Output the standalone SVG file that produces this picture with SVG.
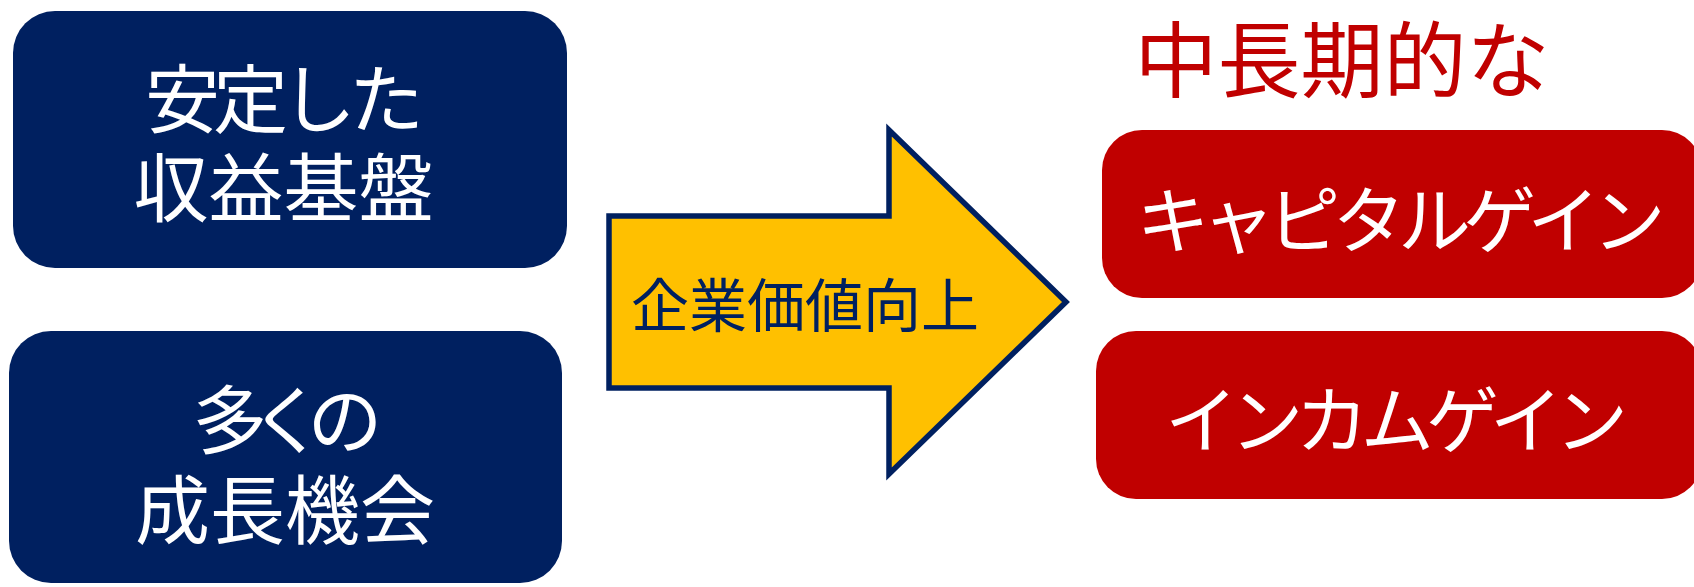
<svg xmlns="http://www.w3.org/2000/svg" width="1694" height="587" viewBox="0 0 1694 587">
<style>
.navy{fill:#002060}
.red{fill:#C00000}
.t{font-family:"Noto Sans CJK JP","Noto Sans CJK SC",sans-serif;text-anchor:middle;font-weight:400}
.w{fill:#FFFFFF}
</style>
<rect width="1694" height="587" fill="#FFFFFF"/>
<g id="node-base">
<rect class="navy" x="13" y="11" width="554" height="257" rx="42"/>
<text class="t w" x="284.5" y="127" font-size="75" textLength="279" lengthAdjust="spacing">安定した</text>
<text class="t w" x="283.5" y="216" font-size="75">収益基盤</text>
</g>
<g id="node-growth">
<rect class="navy" x="9" y="331" width="553" height="252" rx="42"/>
<text class="t w" x="287.5" y="448" font-size="75" textLength="190" lengthAdjust="spacing">多くの</text>
<text class="t w" x="285" y="538" font-size="75">成長機会</text>
</g>
<g id="connectors">
<g id="arrow-value">
<polygon points="609,216 889,216 889,130 1066,302 889,474 889,388 609,388" fill="#FFC000" stroke="#002060" stroke-width="5.5"/>
<text class="t" x="805" y="327" font-size="58" fill="#002060">企業価値向上</text>
</g>
</g>
<g id="node-title">
<text class="t" x="1342" y="91" font-size="83" fill="#C00000">中長期的な</text>
</g>
<g id="node-capital">
<rect class="red" x="1102" y="130" width="600" height="168" rx="40"/>
<text class="t w" x="1401" y="247" font-size="73" textLength="529" lengthAdjust="spacing">キャピタルゲイン</text>
</g>
<g id="node-income">
<rect class="red" x="1096" y="331" width="606" height="168" rx="40"/>
<text class="t w" x="1396.5" y="447" font-size="73" textLength="463" lengthAdjust="spacing">インカムゲイン</text>
</g>
</svg>
